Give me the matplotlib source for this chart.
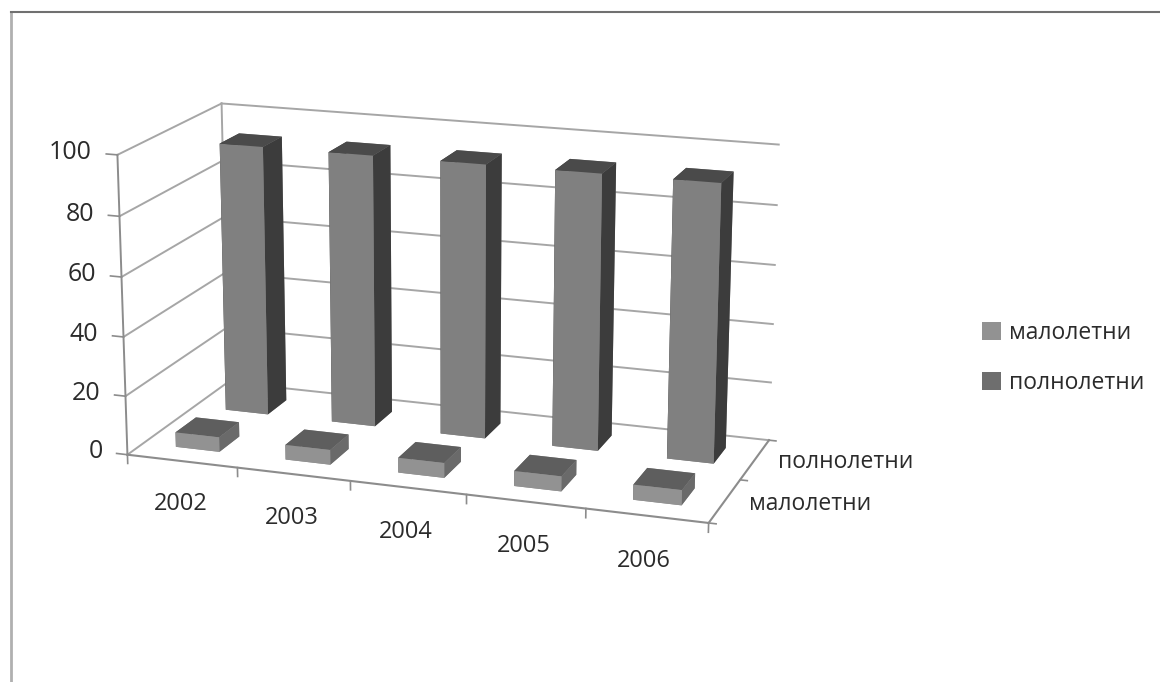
import matplotlib
matplotlib.use('Agg')
import matplotlib.pyplot as plt
from matplotlib.lines import Line2D
from matplotlib.patches import Patch

plt.rcParams['font.family'] = ['Open Sans', 'DejaVu Sans']

years = ['2002', '2003', '2004', '2005', '2006']
series = ['малолетни', 'полнолетни']
minors = [5, 5, 5, 5, 5]
adults = [93, 93, 93, 93, 93]
z_ticks = [0, 20, 40, 60, 80, 100]

grid_col = '#a6a6a6'
axis_col = '#8c8c8c'
text_col = '#2b2b2b'
# colours: bottom, top, front, back, left, right
minor_faces = ['#8a8a8a', '#5e5e5e', '#929292', '#929292', '#6a6a6a', '#6a6a6a']
adult_faces = ['#808080', '#4a4a4a', '#808080', '#808080', '#3c3c3c', '#3c3c3c']

fig = plt.figure(figsize=(11.6, 6.82), dpi=100)
# 3d axes are forced square, so make the square as wide as the figure
ax = fig.add_axes([-0.125, -0.314, 1, 1.7], projection='3d')
ax.set_proj_type('persp', focal_length=0.45)
ax.view_init(elev=16, azim=-71)
ax.set_xlim(0, 5)
ax.set_ylim(0, 2)
ax.set_zlim(0, 100)
ax.set_box_aspect((625, 265, 322), zoom=0.605)
ax.set_xticks([])
ax.set_yticks([])
ax.set_zticks([])
ax.set_axis_off()

# walls
for v in z_ticks:
    ax.plot([0, 0], [0, 2], [v, v], color=grid_col, lw=1.4, zorder=1)
    ax.plot([0, 5], [2, 2], [v, v], color=grid_col, lw=1.4, zorder=1)
    ax.plot([-0.1, 0], [0, 0], [v, v], color=axis_col, lw=1.2)
    ax.text(-0.23, 0, v, str(v), ha='right', va='center', fontsize=18, color=text_col)
ax.plot([0, 0], [0, 0], [0, 100], color=axis_col, lw=1.4)
ax.plot([0, 0], [2, 2], [0, 100], color=grid_col, lw=1.4)

# floor axes and ticks
ax.plot([0, 5], [0, 0], [0, 0], color=axis_col, lw=1.5)
ax.plot([5, 5], [0, 2], [0, 0], color=axis_col, lw=1.5)
for i in range(6):
    ax.plot([i, i], [0, 0], [0, -3], color=axis_col, lw=1.2)
for j in range(3):
    ax.plot([5, 5.06], [j, j], [0, 0], color=axis_col, lw=1.2)

width = 0.4
depth = 0.4
for row, (vals, faces) in enumerate(zip([minors, adults], [minor_faces, adult_faces])):
    for i, val in enumerate(vals):
        ax.bar3d(i + 0.5 - width / 2, row + 0.5 - depth / 2, 0, width, depth, val,
                 color=faces, shade=False, edgecolor='none')

for i, y in enumerate(years):
    ax.text(i + 0.5, -0.05, -14, y, ha='center', va='center', fontsize=17, color=text_col)
for j, s in enumerate(series):
    ax.text(5.2, j + 0.5, 0, s, ha='left', va='center', fontsize=16.5, color=text_col)

handles = [Patch(facecolor='#929292'), Patch(facecolor='#6e6e6e')]
fig.legend(handles, series, loc='center left', bbox_to_anchor=(0.829, 0.475), frameon=False,
           fontsize=16.5, labelcolor=text_col, handlelength=0.8, handleheight=0.8,
           handletextpad=0.35, labelspacing=1.15)

# scan frame
fig.add_artist(Line2D([0.0095, 0.0095], [0, 0.982], color='#b0b0b0', lw=2))
fig.add_artist(Line2D([0.0095, 1], [0.982, 0.982], color='#707070', lw=1.5))

fig.savefig('out.png', dpi=100)
